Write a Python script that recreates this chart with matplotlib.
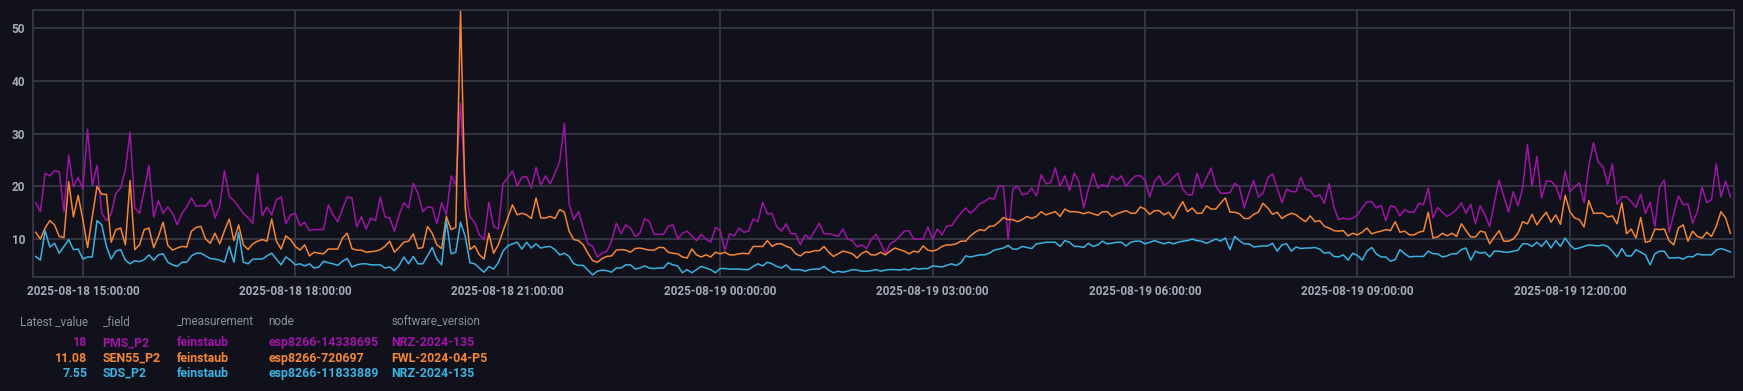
import pandas as pd
import matplotlib
matplotlib.use("Agg")
import matplotlib.pyplot as plt
import matplotlib.dates as mdates

# one reading every 4 minutes, 2025-08-18 14:20 .. 2025-08-19 14:16
START = "2025-08-18 14:20"
N_POINTS = 360

pms_p2 = [
    16.9, 15.2, 22.5, 22.0, 23.0, 22.8, 15.2, 25.9, 19.9, 21.7, 19.5, 30.9, 20.1, 24.0, 14.9, 13.5,
    14.8, 18.7, 19.7, 23.1, 30.3, 15.9, 14.9, 19.3, 24.0, 14.2, 17.3, 14.9, 16.1, 14.9, 12.7, 14.9,
    16.1, 17.8, 16.2, 16.4, 16.2, 17.5, 14.0, 16.3, 23.0, 18.1, 17.3, 16.1, 14.9, 14.0,
    13.0, 22.4, 14.4, 16.1, 14.6, 17.5, 18.0, 12.9, 14.6, 14.9, 12.5, 13.2, 11.6, 11.8, 11.8, 11.8,
    16.5, 14.6, 13.3, 15.7, 18.0, 17.8, 12.3, 14.2, 11.9, 14.0, 13.5, 18.0, 14.2, 14.0, 11.5, 14.6,
    16.9, 15.9, 20.6, 18.6, 15.2, 16.1, 16.0, 12.9, 16.9, 14.6, 22.0, 20.3,
    35.8, 20.0, 14.2, 13.2, 10.8, 9.9, 17.0, 12.4, 11.9, 20.5, 21.6, 23.0, 20.1, 21.7, 21.9, 19.7,
    23.6, 20.3, 22.0, 20.5, 22.5, 24.7, 32.0, 16.7, 13.7, 15.2, 12.1, 9.1, 8.6, 6.6, 7.3, 7.7,
    9.6, 13.0, 11.0, 12.7, 12.1, 10.5, 11.1, 13.9, 13.3, 10.9, 10.9, 10.9, 12.4, 12.7,
    10.0, 11.1, 11.5, 10.6, 9.7, 10.9, 10.0, 9.4, 12.2, 11.6, 7.9, 11.0, 10.6, 12.1, 11.3, 11.5,
    13.8, 13.3, 17.0, 14.8, 14.9, 12.3, 11.5, 12.9, 11.0, 11.0, 8.9, 10.8, 10.0, 11.5, 13.0, 11.0,
    11.0, 10.8, 10.5, 11.9, 10.0, 9.7, 8.5, 8.9, 8.2, 9.9, 10.9, 9.2, 7.2,
    9.1, 9.6, 10.5, 11.5, 11.6, 10.0, 10.0, 10.0, 12.3, 10.0, 11.9, 10.8, 12.5, 12.5, 13.8, 14.9,
    15.9, 14.9, 15.7, 16.7, 17.1, 17.8, 17.6, 20.0, 20.1, 10.0, 19.5, 20.1, 18.4, 18.6, 19.7, 18.2,
    22.2, 20.5, 20.7, 23.5, 20.0, 22.0, 19.2, 22.5, 20.9, 15.9, 19.5, 22.5, 19.7,
    20.3, 19.9, 22.0, 21.2, 22.0, 20.0, 21.2, 22.0, 22.0, 21.2, 18.0, 20.9, 22.0, 20.2, 20.7, 21.7,
    22.5, 19.5, 18.4, 18.4, 22.5, 19.7, 21.6, 23.5, 20.1, 18.7, 18.7, 18.8, 20.6, 19.9, 15.9, 18.7,
    21.1, 18.0, 18.7, 21.6, 22.4, 19.7, 16.9, 19.5, 19.0, 19.0, 21.7, 19.5,
    19.2, 18.0, 18.4, 16.8, 20.5, 16.1, 13.7, 14.0, 13.7, 14.0, 14.6, 15.9, 17.1, 17.1, 15.9, 16.4,
    13.5, 16.3, 16.1, 14.4, 15.6, 15.1, 15.1, 16.8, 16.5, 19.7, 14.0, 16.0, 15.1, 14.3, 14.9, 15.6,
    16.9, 14.9, 16.6, 12.9, 16.3, 14.6, 12.4, 16.9, 21.2, 18.1, 15.1, 19.0, 16.3,
    19.7, 28.0, 20.1, 25.7, 17.8, 21.0, 21.0, 20.1, 17.5, 22.9, 19.0, 19.9, 20.7, 16.9, 23.8, 28.3,
    24.6, 23.8, 20.4, 24.3, 16.6, 18.0, 18.0, 17.1, 16.0, 18.5, 14.9, 17.0, 12.4, 19.9, 21.2, 11.3,
    14.8, 18.2, 16.5, 16.7, 13.0, 15.2, 19.9, 16.9, 17.5, 24.3, 18.0, 21.0, 18.0,
]

sen55_p2 = [
    11.3, 10.0, 12.1, 13.5, 12.7, 10.5, 10.3, 20.9, 14.2, 18.3, 13.7, 8.4, 14.3, 20.0, 18.5, 18.5,
    9.4, 11.8, 12.1, 8.9, 21.1, 8.0, 8.9, 11.8, 12.1, 8.4, 10.5, 13.2, 8.8, 7.9, 8.3, 8.6,
    8.5, 11.5, 12.2, 12.4, 10.0, 9.2, 11.1, 9.1, 11.6, 13.8, 9.7, 12.7, 8.9, 8.0,
    9.1, 9.6, 9.9, 9.6, 13.8, 9.6, 8.1, 10.6, 9.9, 8.6, 7.9, 8.9, 6.8, 7.5, 7.3, 7.2,
    8.1, 8.1, 8.1, 10.2, 11.1, 8.2, 7.9, 7.9, 7.5, 7.6, 7.7, 8.0, 8.6, 9.6, 7.5, 8.4,
    9.4, 9.6, 11.0, 8.2, 8.4, 12.4, 11.1, 8.9, 8.2, 14.3, 11.8, 12.2,
    53.3, 16.0, 8.0, 8.7, 7.0, 6.2, 11.1, 7.3, 8.9, 11.5, 14.0, 16.5, 14.6, 14.9, 14.6, 13.9,
    17.8, 14.0, 14.0, 14.3, 13.9, 15.6, 15.1, 11.5, 9.9, 9.7, 8.9, 7.3, 5.9, 5.6, 6.3, 6.7,
    6.8, 7.9, 8.0, 7.9, 7.5, 8.2, 8.3, 8.1, 7.9, 7.9, 8.4, 8.4, 7.5, 7.3,
    7.2, 6.6, 6.4, 8.1, 7.0, 6.6, 7.0, 6.6, 7.5, 7.2, 7.5, 7.0, 7.0, 7.2, 7.3, 7.2,
    8.6, 8.6, 8.6, 9.7, 8.6, 9.1, 9.1, 8.6, 8.3, 7.2, 6.8, 7.5, 7.5, 7.8, 7.8, 8.6,
    7.5, 6.7, 7.2, 7.7, 7.5, 7.2, 6.4, 7.3, 7.7, 7.0, 7.0, 7.5, 7.0,
    7.7, 8.3, 8.0, 7.7, 7.2, 7.7, 7.5, 8.7, 7.9, 7.7, 8.0, 8.6, 8.9, 8.9, 9.1, 9.6,
    9.6, 10.6, 11.3, 11.8, 11.6, 12.4, 12.5, 13.2, 14.1, 13.7, 13.7, 13.3, 13.7, 14.3, 13.9, 14.3,
    15.2, 14.6, 14.9, 15.2, 14.3, 15.7, 15.2, 15.2, 15.1, 14.8, 15.1, 14.8, 14.5,
    15.2, 15.2, 14.3, 14.8, 15.1, 15.4, 14.9, 14.9, 16.1, 15.7, 14.7, 15.4, 15.4, 14.6, 15.1, 13.9,
    15.6, 17.1, 15.2, 15.9, 14.9, 14.9, 16.3, 15.7, 15.7, 16.8, 17.8, 15.1, 15.1, 14.8, 13.9, 13.9,
    14.7, 15.1, 16.8, 15.9, 14.7, 15.1, 13.9, 14.5, 14.9, 14.6, 13.9, 13.3,
    14.4, 13.3, 13.5, 12.4, 12.1, 11.6, 11.5, 11.6, 10.6, 11.1, 10.8, 11.3, 12.1, 11.0, 11.3, 11.5,
    11.8, 11.6, 13.3, 11.3, 11.5, 10.8, 10.8, 11.3, 11.5, 15.1, 10.2, 10.4, 11.1, 10.6, 11.1, 10.5,
    12.9, 11.6, 10.4, 10.4, 11.5, 11.3, 9.1, 10.4, 11.6, 9.6, 9.6, 10.0, 11.1,
    13.3, 12.9, 14.7, 12.7, 14.0, 15.1, 13.2, 14.6, 12.8, 18.3, 15.2, 14.0, 13.7, 12.3, 17.3, 14.9,
    14.9, 14.9, 14.2, 14.4, 12.9, 16.9, 11.0, 11.9, 10.2, 14.1, 9.4, 9.6, 11.9, 11.8, 11.9, 9.7,
    8.9, 12.1, 12.7, 9.6, 11.5, 10.5, 10.2, 11.3, 10.5, 12.4, 15.2, 14.0, 11.08,
]

sds_p2 = [
    6.7, 6.0, 11.6, 8.5, 9.2, 7.3, 8.6, 9.9, 8.0, 8.1, 6.2, 6.6, 6.6, 13.5, 12.7, 8.6,
    6.2, 7.7, 8.0, 6.0, 5.3, 5.9, 5.7, 6.1, 7.0, 6.0, 7.0, 7.2, 5.6, 5.1, 4.8, 5.6,
    5.6, 6.8, 7.3, 7.3, 6.8, 6.3, 6.2, 6.0, 5.6, 8.6, 5.6, 11.3, 5.6, 5.3,
    6.2, 6.2, 6.2, 6.8, 7.3, 6.2, 5.1, 6.6, 6.0, 5.1, 5.3, 4.9, 5.3, 4.5, 4.7, 5.8,
    5.5, 5.3, 5.0, 5.8, 6.3, 4.7, 5.1, 5.3, 5.3, 5.1, 5.1, 5.1, 4.5, 4.7, 4.0, 5.0,
    6.6, 5.3, 6.7, 5.3, 5.3, 6.8, 8.4, 6.2, 5.1, 13.5, 7.2, 7.5,
    13.2, 10.5, 5.5, 5.3, 4.5, 3.7, 4.8, 4.3, 5.5, 7.7, 8.7, 9.1, 9.4, 8.1, 9.4, 8.3,
    9.1, 8.3, 8.5, 8.6, 8.0, 7.0, 7.3, 6.7, 5.3, 5.0, 5.0, 4.1, 3.2, 3.9, 4.1, 4.0,
    3.7, 4.5, 4.5, 5.1, 5.1, 4.3, 4.5, 4.9, 4.5, 4.4, 4.5, 4.5, 5.5, 5.1,
    4.9, 3.6, 4.2, 3.6, 4.2, 4.8, 4.5, 4.2, 3.6, 4.4, 4.4, 4.3, 4.3, 4.3, 4.2, 4.2,
    4.8, 5.3, 4.9, 5.6, 5.3, 4.8, 4.5, 5.1, 4.2, 4.2, 4.2, 3.9, 4.2, 4.3, 4.3, 4.8,
    4.1, 3.6, 3.9, 3.7, 3.9, 4.2, 4.1, 3.9, 3.9, 4.0, 4.2, 3.9, 4.1,
    4.2, 4.2, 4.1, 4.3, 4.1, 4.5, 4.3, 4.4, 4.4, 4.9, 4.8, 4.7, 5.0, 5.3, 5.0, 5.5,
    6.8, 6.6, 6.8, 7.0, 7.0, 7.3, 7.9, 8.1, 8.3, 8.8, 8.1, 8.1, 8.6, 8.4, 8.2, 9.1,
    9.2, 9.4, 9.4, 9.4, 8.6, 9.7, 9.4, 8.6, 8.6, 8.4, 9.2, 8.6, 8.9,
    9.6, 9.1, 9.2, 9.4, 9.4, 8.7, 9.4, 9.6, 9.6, 9.1, 9.4, 9.7, 9.4, 9.1, 9.4, 9.1,
    9.4, 9.6, 9.7, 10.0, 9.7, 9.6, 9.2, 9.6, 10.0, 9.6, 10.2, 8.0, 10.5, 9.7, 9.1, 9.1,
    8.5, 8.6, 8.7, 8.7, 9.2, 7.7, 8.9, 9.1, 7.7, 8.5, 8.2, 8.3,
    8.3, 8.4, 8.1, 7.3, 7.5, 6.7, 6.6, 7.0, 6.0, 7.3, 6.9, 6.0, 7.7, 8.4, 7.2, 6.6,
    6.6, 5.8, 6.1, 8.0, 7.2, 6.6, 6.7, 6.7, 6.7, 7.7, 7.2, 7.2, 6.6, 6.8, 7.2, 7.2,
    8.0, 8.3, 6.0, 7.7, 7.3, 7.5, 6.6, 7.7, 7.7, 7.5, 7.5, 7.7, 7.9,
    9.1, 9.1, 8.6, 9.4, 8.6, 9.7, 8.3, 9.7, 8.6, 10.2, 8.9, 8.1, 8.3, 8.6, 8.9, 8.8,
    8.7, 8.9, 8.6, 7.7, 6.6, 8.2, 6.8, 6.8, 8.0, 7.5, 7.0, 5.1, 7.2, 7.7, 7.7, 6.4,
    6.4, 6.5, 6.2, 6.7, 6.6, 7.2, 7.0, 7.0, 7.0, 7.9, 8.2, 7.9, 7.55,
]

series_names = ["PMS_P2", "SEN55_P2", "SDS_P2"]
latest_values = ["18", "11.08", "7.55"]
measurements = ["feinstaub", "feinstaub", "feinstaub"]
nodes = ["esp8266-14338695", "esp8266-720697", "esp8266-11833889"]
versions = ["NRZ-2024-135", "FWL-2024-04-P5", "NRZ-2024-135"]
colors = ["#a114a8", "#f58634", "#3bb2e2"]

BG = "#10111a"
GRID = "#383a48"
TICK = "#a7aab8"
FONT = "Roboto"


def main():
    times = pd.date_range(START, periods=N_POINTS, freq="4min")

    fig = plt.figure(figsize=(17.43, 3.91), dpi=100, facecolor=BG)
    ax = fig.add_axes([0.0191, 0.2923, 0.9757, 0.6821])
    ax.set_facecolor(BG)

    for values, color in zip([pms_p2, sen55_p2, sds_p2], colors):
        ax.plot(times, values, color=color, linewidth=1.1)

    ax.set_xlim(pd.Timestamp("2025-08-18 14:18"), pd.Timestamp("2025-08-19 14:19"))
    ax.set_ylim(2.85, 53.5)
    ax.set_yticks([10, 20, 30, 40, 50])
    ax.xaxis.set_major_locator(mdates.HourLocator(byhour=range(0, 24, 3)))
    ax.xaxis.set_major_formatter(mdates.DateFormatter("%Y-%m-%d %H:%M:%S"))

    ax.grid(True, color=GRID, linewidth=1.2)
    ax.set_axisbelow(True)
    for side in ax.spines.values():
        side.set_color(GRID)
        side.set_linewidth(1.2)
    ax.tick_params(length=0, colors=TICK, labelsize=8.5)
    ax.tick_params(axis="x", pad=6)
    ax.tick_params(axis="y", pad=6)
    for lab in ax.get_xticklabels() + ax.get_yticklabels():
        lab.set_fontfamily(FONT)
        lab.set_fontweight("bold")

    # legend table under the chart
    head_y = 0.1772
    row_y = [0.1228, 0.0836, 0.0453]
    cols = [0.0589, 0.1017, 0.1539, 0.2244]
    head_font = dict(family=FONT, fontsize=8.5, va="center", color="#8b8e9c")
    row_font = dict(family=FONT, fontsize=8.9, va="center", fontweight="bold")
    fig.text(0.01165, head_y, "Latest _value", **head_font)
    for x, name in zip(cols, ["_field", "_measurement", "node", "software_version"]):
        fig.text(x, head_y, name, **head_font)

    for k in range(3):
        y = row_y[k]
        c = colors[k]
        fig.text(0.0503, y, latest_values[k], color=c, ha="right", **row_font)
        fig.text(cols[0], y, series_names[k], color=c, **row_font)
        fig.text(cols[1], y, measurements[k], color=c, **row_font)
        fig.text(cols[2], y, nodes[k], color=c, **row_font)
        fig.text(cols[3], y, versions[k], color=c, **row_font)

    fig.savefig("out.png", dpi=100, facecolor=BG)
    plt.close(fig)


if __name__ == "__main__":
    main()
